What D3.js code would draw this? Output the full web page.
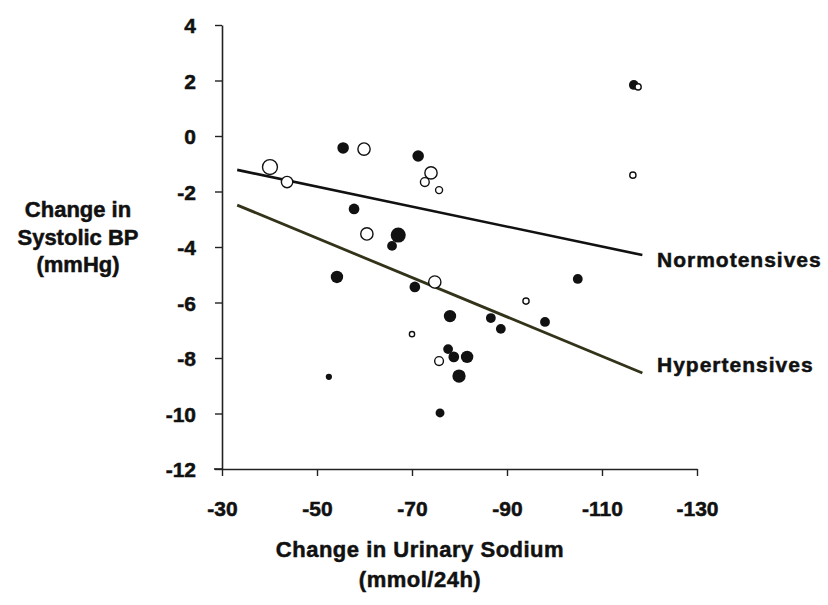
<!DOCTYPE html>
<html>
<head>
<meta charset="utf-8">
<script src="https://cdn.jsdelivr.net/npm/d3@7"></script>
<style>
  html, body { margin: 0; padding: 0; background: #fff; }
  svg { display: block; }
  text { font-family: "Liberation Sans", Arial, Helvetica, sans-serif; font-weight: bold; fill: #111; stroke: #111; stroke-width: 0.5px; }
</style>
</head>
<body>
<svg id="chart" width="828" height="605"></svg>
<script>
// Axis ticks
const xTicks = [-30, -50, -70, -90, -110, -130];
const yTicks = [4, 2, 0, -2, -4, -6, -8, -10, -12];

// Normotensive studies (open markers): change in urinary sodium, change in SBP, study weight
const normoSodium = [-40.1, -43.7, -59.9, -60.5, -74.0, -72.7, -75.7, -74.8, -70.0, -75.7, -94.0, -116.5, -117.6];
const normoSBP    = [-1.12, -1.66, -0.47, -3.53, -1.33, -1.66, -1.95, -5.26, -7.14, -8.11, -5.95, -1.41, 1.77];
const normoWeight = [88, 47, 56, 56, 56, 25, 14, 56, 6, 25, 10, 10, 10];

// Hypertensive studies (filled markers)
const hyperSodium = [-55.5, -71.3, -57.8, -67.1, -65.8, -54.2, -70.6, -52.5, -78.0, -86.6, -88.7, -77.6, -78.8, -81.6, -79.9, -75.9, -104.9, -98.0, -116.7];
const hyperSBP    = [-0.43, -0.72, -2.63, -3.57, -3.96, -5.08, -5.44, -8.68, -6.49, -6.56, -6.95, -7.68, -7.96, -7.96, -8.65, -9.98, -5.15, -6.70, 1.84];
const hyperWeight = [39, 39, 32, 77, 25, 47, 32, 6, 47, 25, 25, 25, 32, 47, 56, 19, 25, 25, 25];

// Fitted regression lines: [sodium, SBP] at both ends
const normoFit = [[-33.2, -1.22], [-118.5, -4.29]];
const hyperFit = [[-33.2, -2.49], [-118.5, -8.54]];

const svg = d3.select("#chart");

const x = d3.scaleLinear().domain([-30, -130]).range([222, 697]);
const y = d3.scaleLinear().domain([4, -12]).range([25, 469]);
const r = d3.scaleSqrt().domain([0, 100]).range([1.4, 8.4]);

// Axes (plain hyphen for negative numbers)
const fmt = d => String(d);
const xAxis = d3.axisBottom(x).tickValues(xTicks).tickFormat(fmt).tickSize(7).tickPadding(25).tickSizeOuter(0);
const yAxis = d3.axisLeft(y).tickValues(yTicks).tickFormat(fmt).tickSize(7).tickPadding(19).tickSizeOuter(0);

const gx = svg.append("g").attr("transform", `translate(0,${y(-12)})`).call(xAxis);
const gy = svg.append("g").attr("transform", `translate(${x(-30)},0)`).call(yAxis);

[gx, gy].forEach(g => {
  g.select(".domain").attr("stroke", "#222").attr("stroke-width", 1.6);
  g.selectAll(".tick line").attr("stroke", "#222").attr("stroke-width", 1.4);
  g.selectAll(".tick text").attr("font-size", 21).attr("font-family", null).attr("fill", "#111");
});
gy.selectAll(".tick text").attr("dy", "0.36em");
// extend x axis a bit to the left of the y axis
gx.append("line").attr("x1", 214).attr("x2", x(-30)).attr("y1", 0).attr("y2", 0)
  .attr("stroke", "#222").attr("stroke-width", 1.6);

// Axis titles
const yTitle = svg.append("text").attr("text-anchor", "middle").attr("font-size", 22);
[["Change in", 217], ["Systolic BP", 245], ["(mmHg)", 272]].forEach(([t, yy]) =>
  yTitle.append("tspan").attr("x", 78).attr("y", yy).text(t));

svg.append("text").attr("text-anchor", "middle").attr("font-size", 22)
  .attr("letter-spacing", 0.5).attr("x", 420).attr("y", 557).text("Change in Urinary Sodium");
svg.append("text").attr("text-anchor", "middle").attr("font-size", 22)
  .attr("letter-spacing", 0.5).attr("x", 420).attr("y", 587).text("(mmol/24h)");

// Regression lines
const line = d3.line().x(d => x(d[0])).y(d => y(d[1]));
svg.append("path").datum(normoFit).attr("d", line)
  .attr("fill", "none").attr("stroke", "#111").attr("stroke-width", 2.6);
svg.append("path").datum(hyperFit).attr("d", line)
  .attr("fill", "none").attr("stroke", "#33331a").attr("stroke-width", 2.8);

svg.append("text").attr("x", 657).attr("y", 267).attr("font-size", 21)
  .attr("letter-spacing", 1).text("Normotensives");
svg.append("text").attr("x", 657).attr("y", 372).attr("font-size", 21)
  .attr("letter-spacing", 1).text("Hypertensives");

// Study markers
const hyper = hyperSodium.map((s, i) => ({ s, b: hyperSBP[i], w: hyperWeight[i] }));
const normo = normoSodium.map((s, i) => ({ s, b: normoSBP[i], w: normoWeight[i] }));

svg.append("g").selectAll("circle").data(hyper).join("circle")
  .attr("cx", d => x(d.s)).attr("cy", d => y(d.b)).attr("r", d => r(d.w))
  .attr("fill", "#111");

svg.append("g").selectAll("circle").data(normo).join("circle")
  .attr("cx", d => x(d.s)).attr("cy", d => y(d.b)).attr("r", d => r(d.w) - 0.5)
  .attr("fill", "#fff").attr("stroke", "#111").attr("stroke-width", 1.4);
</script>
</body>
</html>
